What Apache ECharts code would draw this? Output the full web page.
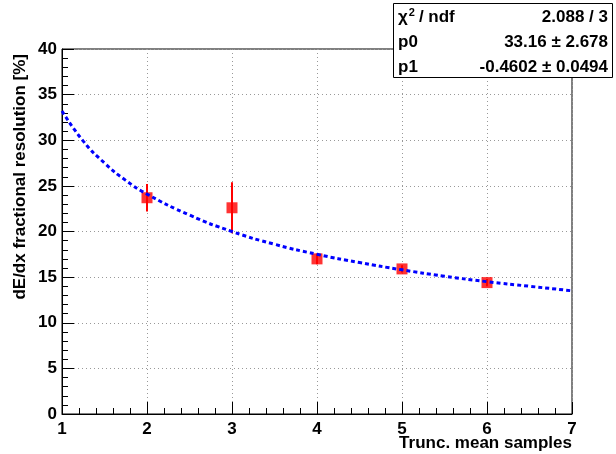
<!DOCTYPE html>
<html>
<head>
<meta charset="utf-8">
<script src="https://cdn.jsdelivr.net/npm/echarts@6/dist/echarts.min.js"></script>
<style>
html,body{margin:0;padding:0;background:#fff;}
#c{width:616px;height:454px;}
</style>
</head>
<body>
<div id="c"></div>
<script>
// Data
var samples = [2, 3, 4, 5, 6];
var resolution = [23.7, 22.6, 17.0, 15.9, 14.4];
var resolutionErr = [1.5, 2.8, 0.6, 0.4, 0.4];

// Fit curve
var fitX = [1, 1.25, 1.5, 1.75, 2, 2.5, 3, 3.5, 4, 4.5, 5, 5.5, 6, 6.5, 7];
var fitY = [33.2, 29.9, 27.5, 25.6, 24.1, 21.8, 20.0, 18.6, 17.5, 16.6, 15.8, 15.1, 14.5, 14.0, 13.5];

var yTicks = [0, 5, 10, 15, 20, 25, 30, 35, 40];
var xTicks = [1, 2, 3, 4, 5, 6, 7];

var statsRows = [
  ['{t|χ}{s|2}{t|/ ndf}', '2.088 / 3'],
  ['{t|p0}', '33.16 ± 2.678'],
  ['{t|p1}', '-0.4602 ± 0.0494']
];

var FONT = '"Liberation Sans", Arial, sans-serif';

var points = samples.map(function (x, i) { return [x, resolution[i], resolutionErr[i]]; });
var fitData = fitX.map(function (x, i) { return [x, fitY[i]]; });

var chart = echarts.init(document.getElementById('c'), null, {renderer: 'canvas'});

var gridStyle = {show: true, lineStyle: {color: '#999', width: 1, type: [1, 3]}};

var graphics = [
  {
    type: 'text', x: 572, y: 443,
    style: {text: 'Trunc. mean samples', font: 'bold 17px ' + FONT, fill: '#000', align: 'right', verticalAlign: 'middle'}
  },
  {
    type: 'text', x: 12, y: 54, rotation: Math.PI / 2,
    style: {text: 'dE/dx fractional resolution [%]', font: 'bold 17px ' + FONT, fill: '#000', align: 'right', verticalAlign: 'top'},
    originX: 0, originY: 0
  },
  {
    type: 'rect', shape: {x: 393.5, y: 3.5, width: 219, height: 74}, z: 100,
    style: {fill: '#fff', stroke: '#000', lineWidth: 1}
  }
];
statsRows.forEach(function (r, i) {
  graphics.push({type: 'text', x: 398, y: 17 + i * 25, z: 101,
    style: {text: r[0], fill: '#000', verticalAlign: 'middle', align: 'left',
      rich: {t: {font: 'bold 17px ' + FONT, fill: '#000'}, s: {font: 'bold 11px ' + FONT, fill: '#000', verticalAlign: 'top', padding: [0, 4, 8, 1]}}}});
  graphics.push({type: 'text', x: 608, y: 17 + i * 25, z: 101,
    style: {text: r[1], font: 'bold 17px ' + FONT, fill: '#000', verticalAlign: 'middle', align: 'right'}});
});

chart.setOption({
  animation: false,
  backgroundColor: '#fff',
  grid: {left: 62, right: 44, top: 49, bottom: 40, show: true, borderColor: '#000', borderWidth: 1, backgroundColor: 'transparent'},
  xAxis: {
    type: 'value', min: xTicks[0], max: xTicks[xTicks.length - 1], interval: 1,
    axisLine: {show: true, onZero: false, lineStyle: {color: '#000', width: 1}},
    axisTick: {show: true, inside: true, length: 12, lineStyle: {color: '#000'}},
    minorTick: {show: true, splitNumber: 5, length: 6, lineStyle: {color: '#000'}},
    splitLine: gridStyle,
    axisLabel: {color: '#000', fontFamily: FONT, fontWeight: 'bold', fontSize: 17, margin: 7}
  },
  yAxis: {
    type: 'value', min: yTicks[0], max: yTicks[yTicks.length - 1], interval: 5,
    axisLine: {show: true, onZero: false, lineStyle: {color: '#000', width: 1}},
    axisTick: {show: true, inside: true, length: 12, lineStyle: {color: '#000'}},
    minorTick: {show: true, splitNumber: 5, length: 6, lineStyle: {color: '#000'}},
    splitLine: gridStyle,
    axisLabel: {color: '#000', fontFamily: FONT, fontWeight: 'bold', fontSize: 17, margin: 5}
  },
  graphic: graphics,
  series: [
    {
      type: 'custom', z: 3,
      data: points,
      encode: {x: 0, y: 1},
      renderItem: function (params, api) {
        var x = api.value(0), y = api.value(1), e = api.value(2);
        var p1 = api.coord([x, y - e]);
        var p2 = api.coord([x, y + e]);
        return {type: 'line', shape: {x1: p1[0], y1: p1[1], x2: p2[0], y2: p2[1]},
          style: {stroke: '#ff0000', lineWidth: 2}};
      }
    },
    {
      type: 'scatter', z: 4, data: points, symbol: 'rect', symbolSize: 11,
      itemStyle: {color: '#ff0000'}
    },
    {
      type: 'line', z: 5, data: fitData, smooth: true, showSymbol: false, symbol: 'none',
      lineStyle: {color: '#0000ff', width: 3, type: [4, 3]}
    }
  ]
});
</script>
</body>
</html>
